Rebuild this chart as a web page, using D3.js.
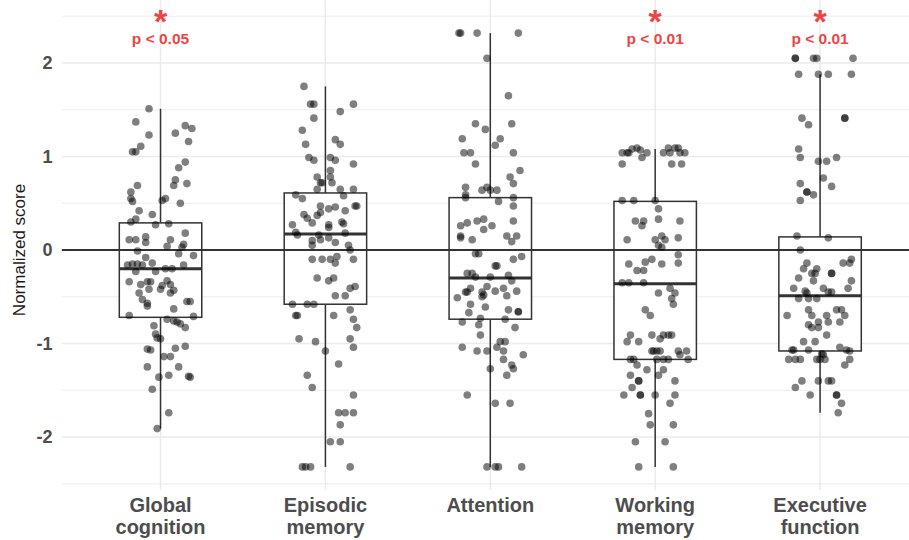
<!DOCTYPE html>
<html>
<head>
<meta charset="utf-8">
<script src="https://cdn.jsdelivr.net/npm/d3@7"></script>
<style>
  html, body { margin: 0; padding: 0; background: #fff; }
  svg { display: block; font-family: "Liberation Sans", Arial, sans-serif; }
</style>
</head>
<body>
<svg id="chart" width="909" height="540"></svg>
<script>
// Cognitive domains shown along the x axis (label lines)
const categories = ["Global cognition", "Episodic memory", "Attention", "Working memory", "Executive function"];
const labelLines = [["Global", "cognition"], ["Episodic", "memory"], ["Attention"], ["Working", "memory"], ["Executive", "function"]];

// Box summaries per domain
const q1 = [-0.72, -0.58, -0.74, -1.17, -1.08];
const medians = [-0.20, 0.17, -0.30, -0.36, -0.49];
const q3 = [0.29, 0.61, 0.56, 0.52, 0.14];
const whiskerLow = [-1.91, -2.32, -2.32, -2.32, -1.74];
const whiskerHigh = [1.51, 1.75, 2.32, 1.08, 1.88];

// Significance annotations
const pLabels = ["p < 0.05", null, null, "p < 0.01", "p < 0.01"];

// Tick values
const majorTicks = [-2, -1, 0, 1, 2];
const minorTicks = [-2.5, -1.5, -0.5, 0.5, 1.5, 2.5];

// Individual scores: [jitter (fraction of category step), normalized score]
const globalCognition = [
  [-0.07,1.51],[-0.15,1.37],[-0.07,1.23],[-0.12,1.11],[-0.17,1.05],[-0.15,1.05],[0.09,1.25],[0.15,1.33],[0.19,1.30],[0.17,1.16],
  [0.15,0.94],[0.11,0.88],[0.09,0.75],[0.08,0.69],[0.16,0.71],[-0.14,0.69],[-0.18,0.62],[-0.18,0.55],[-0.17,0.52],[0.01,0.53],
  [0.03,0.55],[0.12,0.50],[-0.13,0.42],[-0.05,0.38],[-0.15,0.33],[-0.18,0.30],[-0.03,0.27],[0.05,0.28],[0.15,0.18],[-0.19,0.11],
  [-0.15,0.11],[-0.09,0.14],[-0.09,0.08],[0.06,0.11],[0.04,0.04],[0.14,0.06],[0.13,0.03],[-0.14,-0.01],[-0.09,-0.08],[0.11,-0.04],
  [0.20,-0.06],[-0.05,-0.14],[0.14,-0.16],[-0.20,-0.16],[-0.17,-0.15],[-0.14,-0.15],[-0.11,-0.16],[-0.15,-0.23],[-0.03,-0.23],[0.03,-0.20],
  [0.07,-0.20],[-0.19,-0.34],[-0.12,-0.37],[-0.08,-0.34],[-0.06,-0.34],[0.04,-0.33],[0.01,-0.38],[0.00,-0.42],[0.06,-0.37],[0.08,-0.43],
  [0.06,-0.46],[-0.07,-0.42],[-0.13,-0.46],[-0.11,-0.53],[-0.08,-0.57],[-0.08,-0.60],[0.16,-0.55],[0.18,-0.55],[0.08,-0.63],[-0.19,-0.70],
  [0.20,-0.71],[0.04,-0.74],[0.08,-0.76],[0.10,-0.77],[0.12,-0.79],[-0.04,-0.81],[0.15,-0.83],[-0.03,-0.90],[-0.02,-0.94],[0.00,-0.95],
  [-0.08,-1.06],[-0.06,-1.07],[0.09,-1.05],[0.15,-1.03],[0.02,-1.14],[0.06,-1.14],[-0.08,-1.25],[0.11,-1.25],[-0.01,-1.36],[0.05,-1.34],
  [0.17,-1.35],[0.18,-1.36],[-0.05,-1.49],[0.05,-1.74],[-0.02,-1.91]
];
const episodicMemory = [
  [-0.13,1.75],[-0.09,1.56],[-0.07,1.56],[0.17,1.56],[0.09,1.48],[-0.07,1.41],[-0.14,1.28],[-0.12,1.13],[0.06,1.18],[0.09,1.13],
  [-0.10,0.99],[-0.07,0.96],[0.03,0.99],[0.06,0.96],[0.17,0.92],[0.03,0.85],[-0.05,0.78],[0.03,0.78],[-0.03,0.72],[-0.02,0.72],
  [-0.05,0.65],[0.04,0.72],[0.09,0.65],[0.17,0.65],[-0.18,0.59],[-0.14,0.55],[0.11,0.58],[0.18,0.47],[0.19,0.47],[-0.03,0.47],
  [0.02,0.44],[0.06,0.46],[0.12,0.42],[-0.13,0.38],[-0.05,0.37],[-0.03,0.40],[-0.11,0.34],[-0.08,0.29],[0.10,0.30],[0.11,0.28],
  [0.02,0.27],[0.02,0.24],[-0.20,0.27],[-0.18,0.19],[-0.17,0.16],[-0.04,0.16],[-0.03,0.11],[0.02,0.13],[0.12,0.18],[-0.08,0.10],
  [-0.08,0.05],[0.06,0.08],[0.14,0.05],[0.15,0.00],[-0.08,-0.10],[-0.02,-0.10],[0.03,-0.10],[0.07,-0.07],[0.06,-0.14],[0.17,-0.10],
  [-0.05,-0.30],[0.02,-0.33],[0.05,-0.30],[0.18,-0.39],[0.15,-0.41],[0.06,-0.49],[0.12,-0.49],[-0.20,-0.58],[-0.11,-0.58],[-0.07,-0.58],
  [-0.18,-0.70],[-0.17,-0.70],[0.05,-0.70],[0.15,-0.64],[0.17,-0.74],[0.19,-0.83],[-0.16,-0.95],[-0.06,-0.98],[0.15,-0.95],[0.17,-1.04],
  [0.00,-1.08],[0.08,-1.22],[-0.11,-1.34],[-0.08,-1.47],[0.17,-1.55],[0.08,-1.74],[0.12,-1.74],[0.17,-1.74],[0.09,-1.87],[0.03,-2.05],
  [0.09,-2.05],[-0.14,-2.32],[-0.12,-2.32],[-0.09,-2.32],[0.15,-2.32]
];
const attention = [
  [-0.19,2.32],[-0.18,2.32],[-0.08,2.32],[0.17,2.32],[-0.02,2.05],[0.11,1.65],[-0.09,1.35],[-0.03,1.29],[0.13,1.35],[-0.17,1.19],
  [0.06,1.19],[0.03,1.12],[-0.16,1.04],[-0.12,1.04],[0.14,1.04],[-0.09,0.92],[0.18,0.85],[0.12,0.78],[0.14,0.71],[-0.15,0.67],
  [-0.05,0.64],[-0.02,0.67],[0.00,0.64],[0.04,0.64],[-0.15,0.59],[-0.15,0.56],[0.05,0.52],[0.14,0.56],[0.14,0.47],[0.14,0.31],
  [-0.18,0.26],[-0.14,0.29],[-0.08,0.31],[-0.04,0.33],[-0.04,0.22],[0.01,0.26],[-0.18,0.15],[-0.18,0.13],[-0.11,0.11],[0.10,0.15],
  [0.16,0.15],[0.13,0.09],[-0.09,-0.04],[-0.07,-0.04],[0.14,-0.10],[0.19,-0.07],[0.03,-0.17],[0.04,-0.17],[-0.14,-0.25],[-0.11,-0.25],
  [-0.09,-0.29],[0.00,-0.29],[0.11,-0.27],[0.13,-0.33],[-0.15,-0.45],[-0.14,-0.45],[-0.12,-0.41],[-0.20,-0.51],[-0.05,-0.45],[-0.05,-0.50],
  [-0.04,-0.48],[-0.02,-0.39],[0.03,-0.44],[0.08,-0.41],[0.10,-0.49],[0.16,-0.44],[-0.12,-0.58],[-0.03,-0.61],[-0.13,-0.67],[0.11,-0.64],
  [0.17,-0.66],[0.17,-0.66],[-0.06,-0.73],[-0.17,-0.77],[-0.07,-0.80],[0.09,-0.74],[0.15,-0.83],[-0.06,-0.91],[-0.17,-1.04],[-0.08,-1.08],
  [-0.02,-1.08],[0.04,-1.04],[0.06,-0.98],[0.09,-0.98],[0.08,-1.08],[0.20,-1.12],[0.08,-1.17],[0.13,-1.23],[0.14,-1.27],[0.00,-1.27],
  [0.10,-1.34],[-0.14,-1.55],[0.03,-1.64],[0.12,-1.64],[-0.02,-2.32],[0.03,-2.32],[0.05,-2.32],[0.19,-2.32]
];
const workingMemory = [
  [-0.20,1.04],[-0.17,1.04],[-0.16,1.04],[-0.14,1.08],[-0.11,1.09],[-0.09,1.07],[-0.08,0.99],[-0.05,1.04],[0.05,1.04],[0.08,1.09],
  [0.09,1.04],[0.12,1.09],[0.14,1.09],[0.15,1.04],[0.18,1.04],[-0.20,0.92],[0.10,0.92],[0.16,0.92],[-0.20,0.53],[-0.13,0.53],
  [0.00,0.53],[0.02,0.44],[0.02,0.33],[-0.12,0.31],[-0.07,0.31],[-0.08,0.26],[0.15,0.31],[-0.17,0.11],[0.00,0.11],[0.04,0.15],
  [0.06,0.11],[0.14,0.13],[0.02,0.05],[0.04,0.03],[0.14,-0.05],[0.14,-0.14],[-0.16,-0.15],[-0.06,-0.13],[-0.02,-0.10],[0.04,-0.15],
  [-0.11,-0.22],[-0.07,-0.22],[-0.20,-0.35],[-0.16,-0.35],[-0.07,-0.35],[0.09,-0.41],[0.12,-0.46],[0.02,-0.46],[0.10,-0.52],[0.11,-0.58],
  [-0.06,-0.64],[-0.03,-0.70],[-0.15,-0.91],[-0.17,-0.98],[-0.10,-0.98],[-0.02,-0.91],[0.03,-0.95],[0.05,-0.91],[0.08,-0.91],[0.10,-0.91],
  [-0.02,-1.08],[-0.01,-1.08],[0.01,-1.08],[0.03,-1.08],[0.14,-1.08],[0.19,-1.08],[0.15,-1.12],[-0.15,-1.17],[-0.13,-1.17],[0.01,-1.17],
  [0.05,-1.17],[0.08,-1.17],[0.20,-1.17],[-0.11,-1.23],[-0.05,-1.28],[0.05,-1.28],[-0.15,-1.34],[0.02,-1.34],[-0.10,-1.40],[-0.10,-1.40],
  [0.12,-1.40],[-0.14,-1.47],[-0.19,-1.55],[-0.09,-1.55],[-0.09,-1.55],[0.00,-1.55],[0.12,-1.55],[0.09,-1.64],[-0.04,-1.75],[-0.03,-1.87],
  [0.11,-1.87],[-0.12,-2.05],[0.06,-2.05],[-0.10,-2.32],[0.11,-2.32]
];
const executiveFunction = [
  [-0.15,2.05],[-0.15,2.05],[-0.04,2.05],[-0.02,2.05],[0.20,2.05],[-0.13,1.88],[-0.01,1.88],[0.05,1.88],[0.19,1.88],[-0.11,1.41],
  [-0.07,1.34],[0.15,1.41],[0.15,1.41],[-0.13,1.08],[-0.12,0.99],[-0.01,0.95],[0.04,0.95],[0.10,0.99],[0.02,0.77],[-0.12,0.71],
  [0.07,0.68],[-0.08,0.62],[-0.08,0.62],[-0.04,0.59],[-0.12,0.53],[-0.14,0.15],[0.05,0.13],[-0.12,0.00],[-0.08,-0.14],[-0.10,-0.20],
  [-0.02,-0.20],[-0.05,-0.25],[-0.03,-0.25],[0.07,-0.25],[0.07,-0.25],[-0.04,-0.33],[0.14,-0.14],[0.18,-0.14],[0.19,-0.10],[-0.13,-0.30],
  [0.19,-0.33],[-0.16,-0.41],[-0.09,-0.44],[-0.08,-0.46],[0.02,-0.41],[0.05,-0.45],[0.07,-0.45],[0.17,-0.41],[-0.13,-0.52],[-0.07,-0.52],
  [-0.02,-0.52],[-0.07,-0.64],[-0.05,-0.70],[-0.20,-0.70],[0.10,-0.64],[0.13,-0.64],[0.15,-0.70],[0.04,-0.70],[0.05,-0.77],[-0.01,-0.77],
  [0.12,-0.77],[-0.07,-0.80],[-0.05,-0.83],[-0.01,-0.83],[0.04,-0.91],[-0.10,-0.98],[-0.03,-0.98],[0.12,-1.04],[-0.17,-1.07],[-0.16,-1.07],
  [-0.07,-1.07],[0.01,-1.11],[0.02,-1.12],[0.16,-1.07],[0.18,-1.08],[-0.19,-1.17],[-0.15,-1.17],[-0.12,-1.17],[-0.02,-1.17],[0.00,-1.17],
  [0.03,-1.17],[0.18,-1.17],[0.15,-1.23],[-0.11,-1.40],[-0.01,-1.40],[0.05,-1.40],[0.07,-1.40],[-0.15,-1.47],[-0.06,-1.55],[0.10,-1.55],
  [0.10,-1.55],[0.13,-1.64],[0.11,-1.74]
];
const scores = [globalCognition, episodicMemory, attention, workingMemory, executiveFunction];

const width = 909, height = 540;
const panel = { left: 61.6, right: 919, top: 0, bottom: 490 };
const svg = d3.select("#chart");

const x = d3.scalePoint().domain(categories).range([panel.left, panel.right]).padding(0.6);
const step = x.step();
const y = d3.scaleLinear().domain([-2.5, 2]).range([483.75, 63]);

const clipId = "panel-clip";
svg.append("defs").append("clipPath").attr("id", clipId)
  .append("rect").attr("x", panel.left).attr("y", panel.top)
  .attr("width", width - panel.left).attr("height", panel.bottom - panel.top);

const plot = svg.append("g").attr("clip-path", `url(#${clipId})`);

// Grid
plot.append("g").selectAll("line.minor").data(minorTicks).join("line")
  .attr("x1", panel.left).attr("x2", width)
  .attr("y1", d => y(d)).attr("y2", d => y(d))
  .attr("stroke", "#ebebeb").attr("stroke-width", 0.9);
plot.append("g").selectAll("line.major").data(majorTicks).join("line")
  .attr("x1", panel.left).attr("x2", width)
  .attr("y1", d => y(d)).attr("y2", d => y(d))
  .attr("stroke", "#ebebeb").attr("stroke-width", 1.5);
plot.append("g").selectAll("line.vert").data(categories).join("line")
  .attr("x1", d => x(d)).attr("x2", d => x(d))
  .attr("y1", panel.top).attr("y2", panel.bottom)
  .attr("stroke", "#ebebeb").attr("stroke-width", 1.5);

// Boxplots
const boxW = step * 0.5;
const boxes = plot.append("g").selectAll("g").data(categories).join("g");
boxes.append("line")
  .attr("x1", d => x(d)).attr("x2", d => x(d))
  .attr("y1", (d, i) => y(q3[i])).attr("y2", (d, i) => y(whiskerHigh[i]))
  .attr("stroke", "#333").attr("stroke-width", 1.5);
boxes.append("line")
  .attr("x1", d => x(d)).attr("x2", d => x(d))
  .attr("y1", (d, i) => y(q1[i])).attr("y2", (d, i) => y(whiskerLow[i]))
  .attr("stroke", "#333").attr("stroke-width", 1.5);
boxes.append("rect")
  .attr("x", d => x(d) - boxW / 2).attr("width", boxW)
  .attr("y", (d, i) => y(q3[i])).attr("height", (d, i) => y(q1[i]) - y(q3[i]))
  .attr("fill", "#fff").attr("stroke", "#333").attr("stroke-width", 1.5);
boxes.append("line")
  .attr("x1", d => x(d) - boxW / 2).attr("x2", d => x(d) + boxW / 2)
  .attr("y1", (d, i) => y(medians[i])).attr("y2", (d, i) => y(medians[i]))
  .attr("stroke", "#333").attr("stroke-width", 3);

// Reference line at zero
plot.append("line")
  .attr("x1", panel.left).attr("x2", width)
  .attr("y1", y(0)).attr("y2", y(0))
  .attr("stroke", "#333").attr("stroke-width", 1.8);

// Jittered individual scores
categories.forEach((c, i) => {
  plot.append("g").selectAll("circle").data(scores[i]).join("circle")
    .attr("cx", d => x(c) + d[0] * step)
    .attr("cy", d => y(d[1]))
    .attr("r", 3.8)
    .attr("fill", "#000")
    .attr("fill-opacity", 0.5);
});

// Significance markers: asterisk above the p-value, one label per domain
const sig = svg.append("g").selectAll("text").data(categories.filter((c, i) => pLabels[i]))
  .join("text")
  .attr("x", d => x(d)).attr("y", 33)
  .attr("text-anchor", "middle")
  .attr("font-weight", "bold")
  .attr("fill", "#ef4444");
sig.append("tspan")
  .attr("x", d => x(d)).attr("font-size", 34).text("*");
sig.append("tspan")
  .attr("x", d => x(d)).attr("dy", 11)
  .attr("font-size", 15.5).text(d => pLabels[categories.indexOf(d)]);

// Y axis
const yAxis = d3.axisLeft(y).tickValues(majorTicks).tickSize(0).tickPadding(9)
  .tickFormat(d => String(d));
const yg = svg.append("g").attr("transform", `translate(${panel.left},0)`).call(yAxis);
yg.select(".domain").remove();
yg.selectAll("text").attr("font-size", 18).attr("font-weight", "bold")
  .attr("fill", "#4d4d4d").attr("font-family", "Liberation Sans, Arial, sans-serif");

svg.append("text")
  .attr("transform", "translate(25,250) rotate(-90)")
  .attr("text-anchor", "middle")
  .attr("font-size", 17).attr("fill", "#1a1a1a")
  .text("Normalized score");

// X axis labels
const xl = svg.append("g").selectAll("text").data(categories).join("text")
  .attr("x", d => x(d)).attr("y", 512)
  .attr("text-anchor", "middle")
  .attr("font-size", 20).attr("font-weight", "bold").attr("fill", "#4d4d4d");
xl.selectAll("tspan").data((d, i) => labelLines[i]).join("tspan")
  .attr("x", function () { return d3.select(this.parentNode).attr("x"); })
  .attr("dy", (d, j) => j === 0 ? 0 : 22)
  .text(d => d);
</script>
</body>
</html>
